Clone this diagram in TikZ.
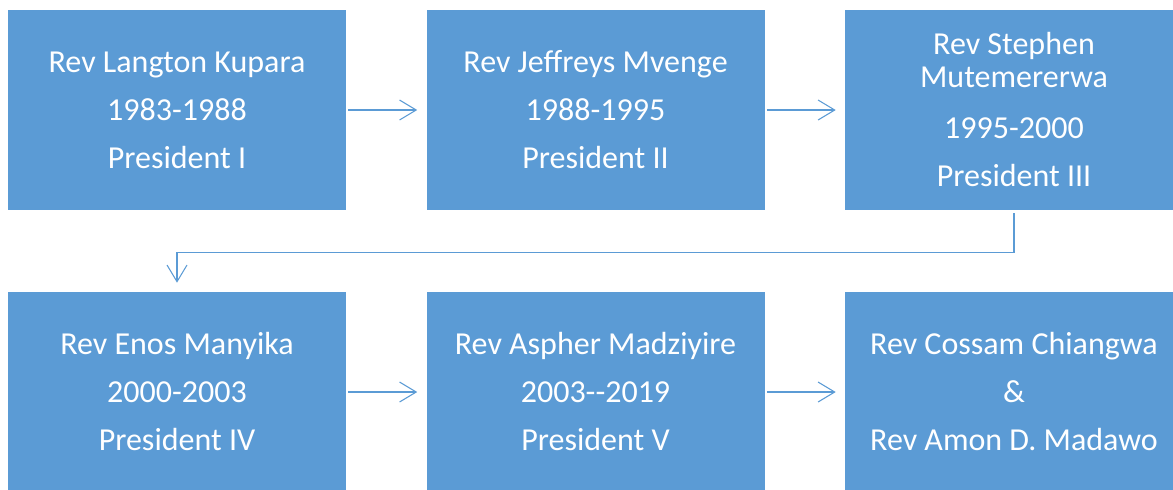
\documentclass[tikz,border=0pt]{standalone}
\usepackage{fontspec}
\setmainfont{Carlito}
\usetikzlibrary{arrows.meta}
\definecolor{boxblue}{HTML}{5B9BD5}
\begin{document}
\begin{tikzpicture}[x=0.75pt,y=-0.75pt,
  pbox/.style={fill=boxblue, draw=none, minimum width=253.5pt, minimum height=150pt,
    inner sep=0pt, text=white, align=center, font=\fontsize{24}{36}\selectfont},
  conn/.style={draw=boxblue, line width=0.8pt,
    -{Straight Barb[length=12.5pt,width=15pt,line width=0.8pt]},
    shorten <=1.5pt, shorten >=6.75pt}]
\clip (0,0) rectangle (1173,489);
\fill[white] (0,0) rectangle (1173,489);
\node[pbox] (b1) at (177,110) {Rev Langton Kupara\\1983-1988\\President I};
\node[pbox] (b2) at (595.5,110) {Rev Jeffreys Mvenge\\1988-1995\\President II};
\node[pbox] (b3) at (1014,110) {Rev Stephen\\[-11.25pt]Mutemererwa\\[2.25pt]1995-2000\\President III};
\node[pbox] (b4) at (177,392) {Rev Enos Manyika\\2000-2003\\President IV};
\node[pbox] (b5) at (595.5,392) {Rev Aspher Madziyire\\2003-{}-2019\\President V};
\node[pbox] (b6) at (1014,392) {Rev Cossam Chiangwa\\\&\\Rev Amon D. Madawo};
\draw[conn] (b1) -- (b2);
\draw[conn] (b2) -- (b3);
\draw[conn, shorten <=2.25pt] (b3.south) -- ++(0,42) -| (b4.north);
\draw[conn] (b4) -- (b5);
\draw[conn] (b5) -- (b6);
\end{tikzpicture}
\end{document}
